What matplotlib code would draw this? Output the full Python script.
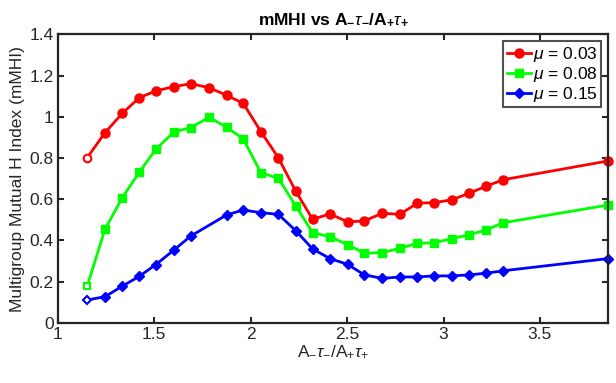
import matplotlib
matplotlib.use('Agg')
import matplotlib.pyplot as plt

plt.rcParams['font.family'] = ['Liberation Sans', 'DejaVu Sans']
plt.rcParams['mathtext.fontset'] = 'custom'
plt.rcParams['mathtext.rm'] = 'Liberation Sans'
plt.rcParams['mathtext.it'] = 'Liberation Sans:italic'
plt.rcParams['mathtext.bf'] = 'Liberation Sans:bold'

# data
ratio = [1.152, 1.244, 1.334, 1.422, 1.508, 1.602, 1.690, 1.783, 1.875, 1.961,
         2.053, 2.143, 2.233, 2.321, 2.411, 2.503, 2.589, 2.682, 2.774, 2.864,
         2.952, 3.042, 3.132, 3.220, 3.310, 3.853]
mhi_003 = [0.802, 0.923, 1.017, 1.093, 1.126, 1.147, 1.161, 1.142, 1.105, 1.066,
           0.928, 0.802, 0.640, 0.503, 0.529, 0.490, 0.495, 0.532, 0.527, 0.581,
           0.584, 0.597, 0.629, 0.663, 0.695, 0.786]
mhi_008 = [0.179, 0.454, 0.608, 0.731, 0.843, 0.927, 0.948, 0.998, 0.950, 0.893,
           0.729, 0.702, 0.569, 0.438, 0.418, 0.380, 0.338, 0.341, 0.362, 0.386,
           0.389, 0.409, 0.427, 0.451, 0.486, 0.572]
# mu = 0.15 has no point at 1.783
ratio_015 = [x for x in ratio if x != 1.783]
mhi_015 = [0.111, 0.127, 0.178, 0.226, 0.283, 0.354, 0.422, 0.524, 0.548, 0.535,
           0.527, 0.448, 0.359, 0.312, 0.284, 0.233, 0.216, 0.223, 0.223, 0.228,
           0.228, 0.233, 0.241, 0.253, 0.312]

series = [
    (ratio, mhi_003, 'r', 'o', r'$\mu$ = 0.03'),
    (ratio, mhi_008, 'lime', 's', r'$\mu$ = 0.08'),
    (ratio_015, mhi_015, 'b', 'D', r'$\mu$ = 0.15'),
]
msizes = {'o': 6.5, 's': 5.5, 'D': 5.5}
fs = 12.5

fig = plt.figure(figsize=(6.16, 3.83), dpi=100)
ax = fig.add_axes([0.094, 0.157, 0.893, 0.753])

handles = []
for xs, ys, c, m, lab in series:
    n = len(xs)
    h, = ax.plot(xs, ys, color=c, marker=m, ms=msizes[m], lw=2,
                 markevery=list(range(1, n)), label=lab, clip_on=False, zorder=3)
    # first point is drawn hollow
    ax.plot(xs[0], ys[0], ls='none', marker=m, ms=msizes[m] - 1, mec=c,
            mfc='white', mew=1.5, clip_on=False, zorder=4)
    handles.append(h)

ax.set_xlim(1, 3.853)
ax.set_ylim(0, 1.4)
ax.set_xticks([1, 1.5, 2, 2.5, 3, 3.5])
ax.set_xticklabels(['1', '1.5', '2', '2.5', '3', '3.5'])
ax.set_yticks([0, 0.2, 0.4, 0.6, 0.8, 1, 1.2, 1.4])
ax.set_yticklabels(['0', '0.2', '0.4', '0.6', '0.8', '1', '1.2', '1.4'])
ax.tick_params(direction='in', length=4, width=1.5, top=True, right=True,
               labelsize=fs, colors='#262626', labelcolor='#262626', pad=3)
for sp in ax.spines.values():
    sp.set_linewidth(1.6)
    sp.set_color('#262626')
    sp.set_zorder(5)

ax.set_xlabel(r'A$_{-}\tau_{-}$/A$_{+}\tau_{+}$', fontsize=fs, labelpad=1,
              color='#262626')
ax.set_ylabel('Multigroup Mutual H Index (mMHI)', fontsize=fs, labelpad=3,
              color='#262626')
ax.set_title(r'mMHI vs A$_{\mathbf{-}}\tau_{\mathbf{-}}$/A$_{\mathbf{+}}\tau_{\mathbf{+}}$',
             fontsize=fs, fontweight='bold', pad=7)

leg = ax.legend(handles=handles, loc='upper right', fontsize=fs,
                frameon=True, fancybox=False, borderpad=0.2, handlelength=1.4,
                handletextpad=0.1, labelspacing=0.05, borderaxespad=0.4)
leg.get_frame().set_edgecolor('#262626')
leg.get_frame().set_linewidth(1.5)
leg.set_zorder(6)

fig.savefig('out.png', dpi=100)
